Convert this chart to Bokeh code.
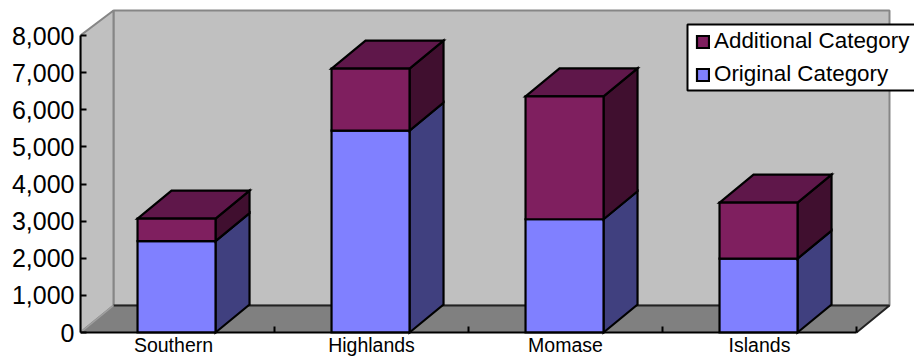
from bokeh.embed import file_html
from bokeh.resources import INLINE
from bokeh.plotting import figure
from bokeh.models import FixedTicker, Legend, LegendItem, NumeralTickFormatter, Range1d

# Chart data
regions = ["Southern", "Highlands", "Momase", "Islands"]
original = [2460, 5440, 3050, 1990]
additional = [610, 1670, 3310, 1510]
y_ticks = [0, 1000, 2000, 3000, 4000, 5000, 6000, 7000, 8000]

# Colours of the faces
ORIG_FRONT, ORIG_SIDE = "#8080FF", "#40407F"
ADD_FRONT, ADD_SIDE, ADD_TOP = "#7F1F5F", "#400F2F", "#5F174A"
WALL, FLOOR, WALL_EDGE = "#C0C0C0", "#808080", "#868686"

# Plot area in pixels; one region slot is 194 px wide, 8,000 units are 297 px tall
LEFT_PX, ZERO_PX, CANVAS_W, CANVAS_H = 80, 332, 914, 356
SLOT_PX = 194.0
UNIT_PX = 297.0 / 8000
BAR_W = 78 / SLOT_PX
BAR_DX, BAR_DY = 34 / SLOT_PX, 28 / UNIT_PX
BOX_DX = 33 / SLOT_PX
FLOOR_DY, WALL_TOP_DY = 27 / UNIT_PX, 25 / UNIT_PX
TOP_VALUE = y_ticks[-1]
N = len(regions)

p = figure(width=CANVAS_W, height=CANVAS_H, output_backend="svg", toolbar_location=None,
           x_range=Range1d(0, (CANVAS_W - LEFT_PX) / SLOT_PX),
           y_range=Range1d(-(CANVAS_H - ZERO_PX) / UNIT_PX, ZERO_PX / UNIT_PX),
           min_border_left=LEFT_PX, min_border_right=0, min_border_top=0, min_border_bottom=0,
           background_fill_color=None, border_fill_color="white", outline_line_color=None)
p.grid.visible = False

# Walls and floor of the box
p.patch([BOX_DX, N + BOX_DX, N + BOX_DX, BOX_DX],
        [FLOOR_DY, FLOOR_DY, TOP_VALUE + WALL_TOP_DY, TOP_VALUE + WALL_TOP_DY],
        fill_color=WALL, line_color=WALL_EDGE, line_width=2)
p.patch([0, BOX_DX, BOX_DX, 0], [0, FLOOR_DY, TOP_VALUE + WALL_TOP_DY, TOP_VALUE],
        fill_color=WALL, line_color=WALL_EDGE, line_width=2)
p.patch([0, N, N + BOX_DX, BOX_DX], [0, 0, FLOOR_DY, FLOOR_DY],
        fill_color=FLOOR, line_color=None)
p.line([BOX_DX, N + BOX_DX, N], [FLOOR_DY, FLOOR_DY, 0], line_color="#222222", line_width=2)
p.line([0, BOX_DX], [0, FLOOR_DY], line_color="#A0A0A0", line_width=1.5)


def boxes(bases, heights):
    """Front, side and top outlines of a stacked bar segment for each region."""
    front, side, top = ([], []), ([], []), ([], [])
    for i, (b, h) in enumerate(zip(bases, heights)):
        x0, x1 = i + 0.5 - 0.005 - BAR_W / 2, i + 0.5 - 0.005 + BAR_W / 2
        t = b + h
        front[0].append([x0, x1, x1, x0])
        front[1].append([b, b, t, t])
        side[0].append([x1, x1 + BAR_DX, x1 + BAR_DX, x1])
        side[1].append([b, b + BAR_DY, t + BAR_DY, t])
        top[0].append([x0, x1, x1 + BAR_DX, x0 + BAR_DX])
        top[1].append([t, t, t + BAR_DY, t + BAR_DY])
    return front, side, top


edge = dict(line_color="#000000", line_width=2.2, line_join="miter")

o_front, o_side, _ = boxes([0] * N, original)
a_front, a_side, a_top = boxes(original, additional)

p.patches(*o_side, fill_color=ORIG_SIDE, **edge)
r_orig = p.patches(*o_front, fill_color=ORIG_FRONT, **edge)
p.patches(*a_side, fill_color=ADD_SIDE, **edge)
p.patches(*a_top, fill_color=ADD_TOP, **edge)
r_add = p.patches(*a_front, fill_color=ADD_FRONT, **edge)

# Value axis
ya = p.yaxis[0]
ya.bounds = (0, TOP_VALUE)
ya.ticker = FixedTicker(ticks=y_ticks)
ya.formatter = NumeralTickFormatter(format="0,0")
ya.axis_line_color = "#000000"
ya.axis_line_width = 2
ya.major_tick_line_color = "#000000"
ya.major_tick_line_width = 2
ya.major_tick_in = 6
ya.major_tick_out = 0
ya.minor_tick_line_color = None
ya.major_label_standoff = 6
ya.major_label_text_font = "Liberation Sans"
ya.major_label_text_font_size = "25px"
ya.major_label_text_color = "#000000"

# Region axis runs along value zero: labels sit near the middle of each slot
label_pos = [0.5 - 4 / SLOT_PX, 1.5, 2.5, 3.5]
xa = p.xaxis[0]
xa.fixed_location = 0
xa.bounds = (0, N)
xa.ticker = FixedTicker(ticks=label_pos)
xa.major_label_overrides = dict(zip(label_pos, regions))
xa.axis_line_color = "#000000"
xa.axis_line_width = 2
xa.major_tick_line_color = None
xa.minor_tick_line_color = None
xa.major_tick_in = 0
xa.major_tick_out = 0
xa.major_label_standoff = 1
xa.major_label_text_font = "Liberation Sans"
xa.major_label_text_font_size = "19.5px"
xa.major_label_text_color = "#000000"

# Short upward tick marks at the slot boundaries
p.segment(list(range(1, N + 1)), [0] * N, list(range(1, N + 1)), [6 / UNIT_PX] * N,
          line_color="#000000", line_width=2)

# Legend panel runs off the right edge of the canvas
panel_left = (687 - LEFT_PX) / SLOT_PX
panel_right = (CANVAS_W + 10 - LEFT_PX) / SLOT_PX
panel_top = (ZERO_PX - 24) / UNIT_PX
panel_bottom = (ZERO_PX - 90) / UNIT_PX
p.quad(left=[panel_left], right=[panel_right], top=[panel_top], bottom=[panel_bottom],
       fill_color="white", line_color="#000000", line_width=2)

legend = Legend(items=[LegendItem(label="Additional Category", renderers=[r_add]),
                       LegendItem(label="Original Category", renderers=[r_orig])],
                location=(615, 269), orientation="vertical",
                background_fill_alpha=0, border_line_color=None,
                label_text_font="Liberation Sans", label_text_font_size="22.4px",
                label_text_color="#000000", glyph_width=15, glyph_height=15,
                label_standoff=4, padding=8, spacing=7, margin=0)
p.add_layout(legend, "center")

open("out.html", "w").write(file_html(p, INLINE))
